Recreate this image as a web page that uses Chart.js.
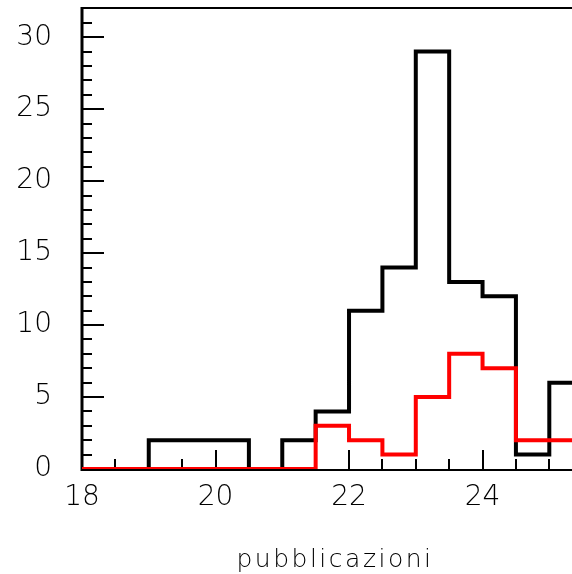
<!DOCTYPE html>
<html>
<head>
<meta charset="utf-8">
<script src="https://cdn.jsdelivr.net/npm/chart.js@4"></script>
<style>
  html, body { margin: 0; padding: 0; background: #fff; }
  #chart { display: block; }
</style>
</head>
<body>
<canvas id="chart" width="572" height="574"></canvas>
<script>
// histogram bins (lower edges), width 0.5
const binLow = [18, 18.5, 19, 19.5, 20, 20.5, 21, 21.5, 22, 22.5, 23, 23.5, 24, 24.5, 25];
const binWidth = 0.5;
const totalCounts = [0, 0, 2, 2, 2, 0, 2, 4, 11, 14, 29, 13, 12, 1, 6];
const redCounts   = [0, 0, 0, 0, 0, 0, 0, 3, 2, 1, 5, 8, 7, 2, 2];

const xTickLabels = [18, 20, 22, 24];
const yTickLabels = [0, 5, 10, 15, 20, 25, 30];
const xTitle = 'pubblicazioni';

const X_MIN = 18, X_MAX = 25.34;
const Y_MIN = 0, Y_MAX = 32.1;

const labelFont = { family: 'DejaVu Sans', size: 28, weight: 200 };

function steps(counts) {
    const pts = binLow.map((x, i) => ({ x: x, y: counts[i] }));
    pts.push({ x: binLow[binLow.length - 1] + binWidth, y: counts[counts.length - 1] });
    return pts;
}

// ROOT-like frame with inward ticks + axis title
const frame = {
    id: 'frame',
    beforeDatasetsDraw(chart) {
        const { ctx, chartArea: a, scales: { x, y } } = chart;
        ctx.save();
        ctx.strokeStyle = '#000';
        ctx.lineCap = 'butt';

        ctx.lineWidth = 2;
        ctx.beginPath();
        ctx.moveTo(a.left, a.top + 1);
        ctx.lineTo(a.right, a.top + 1);
        ctx.moveTo(a.left, a.bottom + 1);
        ctx.lineTo(a.right, a.bottom + 1);
        ctx.stroke();

        ctx.lineWidth = 3;
        ctx.beginPath();
        ctx.moveTo(a.left, a.top);
        ctx.lineTo(a.left, a.bottom + 2);
        ctx.stroke();

        ctx.lineWidth = 2;
        ctx.beginPath();
        for (let v = 1; v <= Y_MAX; v++) {
            const py = Math.round(y.getPixelForValue(v));
            const len = v % 5 === 0 ? 22 : 10;
            ctx.moveTo(a.left, py);
            ctx.lineTo(a.left + len, py);
        }
        for (let v = X_MIN + binWidth; v <= X_MAX; v += binWidth) {
            const px = Math.round(x.getPixelForValue(v));
            const len = xTickLabels.includes(v) ? 19 : 10;
            ctx.moveTo(px, a.bottom);
            ctx.lineTo(px, a.bottom - len);
        }
        ctx.stroke();

        // axis title, wide like the original
        ctx.fillStyle = '#000';
        ctx.font = '200 25px "DejaVu Sans"';
        ctx.letterSpacing = '2.5px';
        ctx.textAlign = 'center';
        ctx.textBaseline = 'alphabetic';
        ctx.fillText(xTitle, 335, 567);
        ctx.restore();
    }
};

new Chart(document.getElementById('chart'), {
    type: 'line',
    data: {
        datasets: [
            {
                label: 'totale',
                data: steps(totalCounts),
                borderColor: '#000',
                borderWidth: 4,
                stepped: 'before',
                pointRadius: 0,
                fill: false,
                order: 2
            },
            {
                label: 'rosso',
                data: steps(redCounts),
                borderColor: '#ff0000',
                borderWidth: 4,
                stepped: 'before',
                pointRadius: 0,
                fill: false,
                order: 1
            }
        ]
    },
    options: {
        responsive: false,
        animation: false,
        events: [],
        layout: { padding: { top: 7, right: 0, left: 0, bottom: 0 } },
        plugins: {
            legend: { display: false },
            tooltip: { enabled: false }
        },
        scales: {
            x: {
                type: 'linear',
                min: X_MIN,
                max: X_MAX,
                grid: { display: false, drawTicks: false },
                border: { display: false },
                afterBuildTicks: s => { s.ticks = xTickLabels.map(v => ({ value: v })); },
                afterFit: s => { s.height = 105; s.paddingLeft = 0; s.paddingRight = 0; },
                ticks: { color: '#000', font: labelFont, padding: 12, maxRotation: 0 }
            },
            y: {
                type: 'linear',
                min: Y_MIN,
                max: Y_MAX,
                grid: { display: false, drawTicks: false },
                border: { display: false },
                afterBuildTicks: s => { s.ticks = yTickLabels.map(v => ({ value: v })); },
                afterFit: s => { s.width = 82; s.paddingTop = 0; s.paddingBottom = 0; },
                ticks: { color: '#000', font: labelFont, padding: 30 }
            }
        }
    },
    plugins: [frame]
});
</script>
</body>
</html>
